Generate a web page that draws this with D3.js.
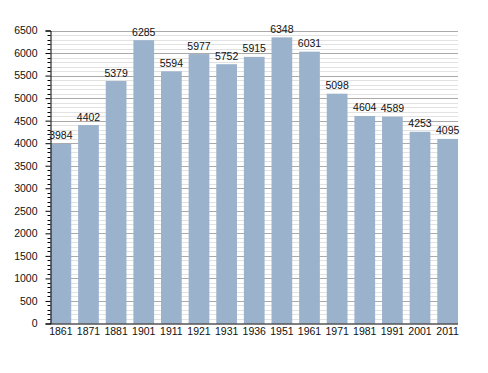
<!DOCTYPE html>
<html><head><meta charset="utf-8">
<script src="https://cdn.jsdelivr.net/npm/d3@7"></script>
<style>body{margin:0;background:#fff}svg{display:block}</style>
</head><body>
<svg id="c" width="488" height="373"></svg>
<script>
const years = ["1861","1871","1881","1901","1911","1921","1931","1936","1951","1961","1971","1981","1991","2001","2011"];
const population = [3984,4402,5379,6285,5594,5977,5752,5915,6348,6031,5098,4604,4589,4253,4095];
const yTicks = [0,500,1000,1500,2000,2500,3000,3500,4000,4500,5000,5500,6000,6500];

const svg = d3.select("#c");
const L = 50.5, R = 458, T = 30.5, B = 323.5;
const font = "Liberation Sans, Arial, sans-serif";
const fs = 10.5;
const x = d3.scaleBand().domain(years).range([L, R]).paddingInner(0.25).paddingOuter(0);
const y = d3.scaleLinear().domain([0, 6500]).range([B, T]);

const minor = d3.range(0, 6501, 100);
svg.append("g").selectAll("line").data(minor.filter(v => v % 500 !== 0)).join("line")
  .attr("x1", L).attr("x2", R).attr("y1", d => Math.round(y(d)) + 0.5).attr("y2", d => Math.round(y(d)) + 0.5)
  .attr("stroke", "#e2e2e2").attr("stroke-width", 1);
svg.append("g").selectAll("line").data(yTicks.filter(v => v > 0)).join("line")
  .attr("x1", L).attr("x2", R).attr("y1", d => Math.round(y(d)) + 0.5).attr("y2", d => Math.round(y(d)) + 0.5)
  .attr("stroke", "#aaaaaa").attr("stroke-width", 1);

svg.append("g").selectAll("rect").data(years).join("rect")
  .attr("x", (d) => x(d)).attr("width", x.bandwidth())
  .attr("y", (d, i) => y(population[i])).attr("height", (d, i) => B - y(population[i]))
  .attr("fill", "#9bb2cd");

svg.append("g").selectAll("text").data(years).join("text")
  .attr("x", d => x(d) + x.bandwidth() / 2).attr("y", (d, i) => y(population[i]) - 4.5)
  .attr("text-anchor", "middle").attr("font-family", font).attr("font-size", fs).attr("fill", "#111")
  .text((d, i) => population[i]);

// minor ticks on y axis
svg.append("g").selectAll("line").data(minor.filter(v => v % 500 !== 0)).join("line")
  .attr("x1", L - 3).attr("x2", L).attr("y1", d => Math.round(y(d)) + 0.5).attr("y2", d => Math.round(y(d)) + 0.5)
  .attr("stroke", "#000");

const yAxis = d3.axisLeft(y).tickValues(yTicks).tickSize(5).tickPadding(8).tickFormat(d3.format("d"));
const gy = svg.append("g").attr("transform", `translate(${L},0)`).call(yAxis);
gy.select(".domain").attr("stroke", "#000");
gy.selectAll(".tick line").attr("stroke", "#000");
gy.selectAll("text").attr("font-family", font).attr("font-size", fs).attr("fill", "#111");

const xAxis = d3.axisBottom(x).tickSize(0).tickPadding(4);
const gx = svg.append("g").attr("transform", `translate(0,${B})`).call(xAxis);
gx.select(".domain").attr("stroke", "#000").attr("d", `M${L},0.5H${R}`);
gx.selectAll("text").attr("font-family", font).attr("font-size", fs).attr("fill", "#111");
</script>
</body></html>
